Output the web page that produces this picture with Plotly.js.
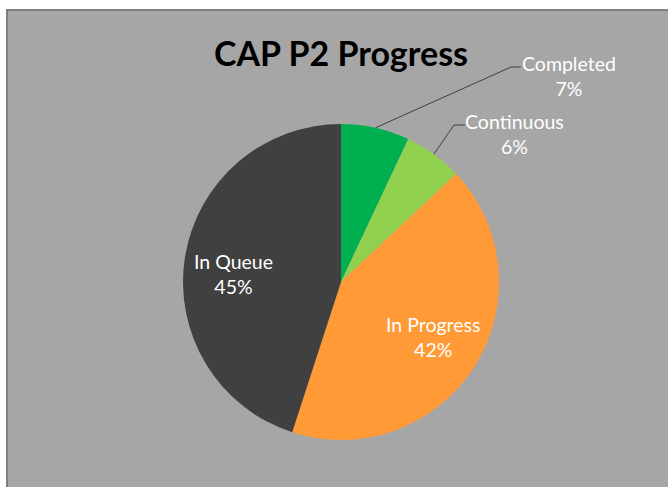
<!DOCTYPE html>
<html>
<head>
<meta charset="utf-8">
<script src="https://cdn.plot.ly/plotly-3.0.1.min.js"></script>
<style>
html,body{margin:0;padding:0;background:#ffffff;overflow:hidden;}
#chart{position:absolute;left:0;top:0;width:668px;height:487px;}
</style>
</head>
<body>
<div id="chart"></div>
<script>
// ---- data ----
const categories = ["Completed", "Continuous", "In Progress", "In Queue"];
const values = [7, 6, 42, 45];
const colors = ["#00b050", "#92d050", "#ff9a36", "#404040"];
const titleText = "CAP P2 Progress";

// ---- layout helpers (pixels -> paper) ----
const W = 668, H = 487;
const px = x => x / W;
const py = y => 1 - y / H;
const CX = 341, CY = 282, R = 158;

const total = values.reduce((a, b) => a + b, 0);
const cum = [];
let acc = 0;
values.forEach(v => { cum.push(acc); acc += v; });
const midAngle = i => (cum[i] + values[i] / 2) / total * 2 * Math.PI; // clockwise from 12 o'clock
const pct = i => Math.round(values[i] / total * 100) + "%";

const labelFont = {family: "Lato, 'Open Sans', sans-serif", size: 19.5, color: "#ffffff"};

const annotations = [];
const shapes = [];

// background panel
shapes.push({type: "rect", xref: "paper", yref: "paper", layer: "below",
  x0: px(7), x1: px(W + 10), y0: py(H + 10), y1: py(10),
  fillcolor: "#a6a6a6", line: {color: "#7f7f7f", width: 2}});

function addLabel(x, y, i) {
  annotations.push({xref: "paper", yref: "paper", showarrow: false,
    xanchor: "center", yanchor: "middle",
    x: px(x), y: py(y),
    text: categories[i] + "<br>" + pct(i), font: labelFont, align: "center"});
}

// inside labels for large slices
[2, 3].forEach(i => {
  const a = midAngle(i);
  const r = 0.69 * R;
  addLabel(CX + r * Math.sin(a), CY - r * Math.cos(a) + (i === 3 ? 9 : -3), i);
});

// outside labels with leader lines
const outside = [
  {i: 0, elbow: [511, 67], end: [521, 67], text: [569, 76]},
  {i: 1, elbow: [454, 125], end: [465, 125], text: [514, 134]}
];
outside.forEach(o => {
  const a = midAngle(o.i);
  const ex = CX + R * Math.sin(a), ey = CY - R * Math.cos(a);
  shapes.push({type: "path", xref: "paper", yref: "paper",
    path: `M ${px(ex)} ${py(ey)} L ${px(o.elbow[0])} ${py(o.elbow[1])} L ${px(o.end[0])} ${py(o.end[1])}`,
    line: {color: "#404040", width: 1}});
  addLabel(o.text[0], o.text[1], o.i);
});

// title
annotations.push({xref: "paper", yref: "paper", showarrow: false,
  xanchor: "center", yanchor: "middle",
  x: px(341), y: py(52), text: "<b>" + titleText + "</b>",
  font: {family: "Lato, 'Open Sans', sans-serif", size: 34, color: "#000000"}});

const data = [{
  type: "pie",
  labels: categories,
  values: values,
  sort: false,
  direction: "clockwise",
  rotation: 0,
  marker: {colors: colors, line: {width: 0}},
  textinfo: "none",
  hoverinfo: "none",
  showlegend: false,
  domain: {x: [px(CX - R), px(CX + R)], y: [py(CY + R), py(CY - R)]}
}];

const layout = {
  width: W, height: H,
  margin: {l: 0, r: 0, t: 0, b: 0},
  paper_bgcolor: "#ffffff",
  showlegend: false,
  shapes: shapes,
  annotations: annotations
};

Plotly.newPlot("chart", data, layout, {displayModeBar: false, staticPlot: true});
</script>
</body>
</html>
